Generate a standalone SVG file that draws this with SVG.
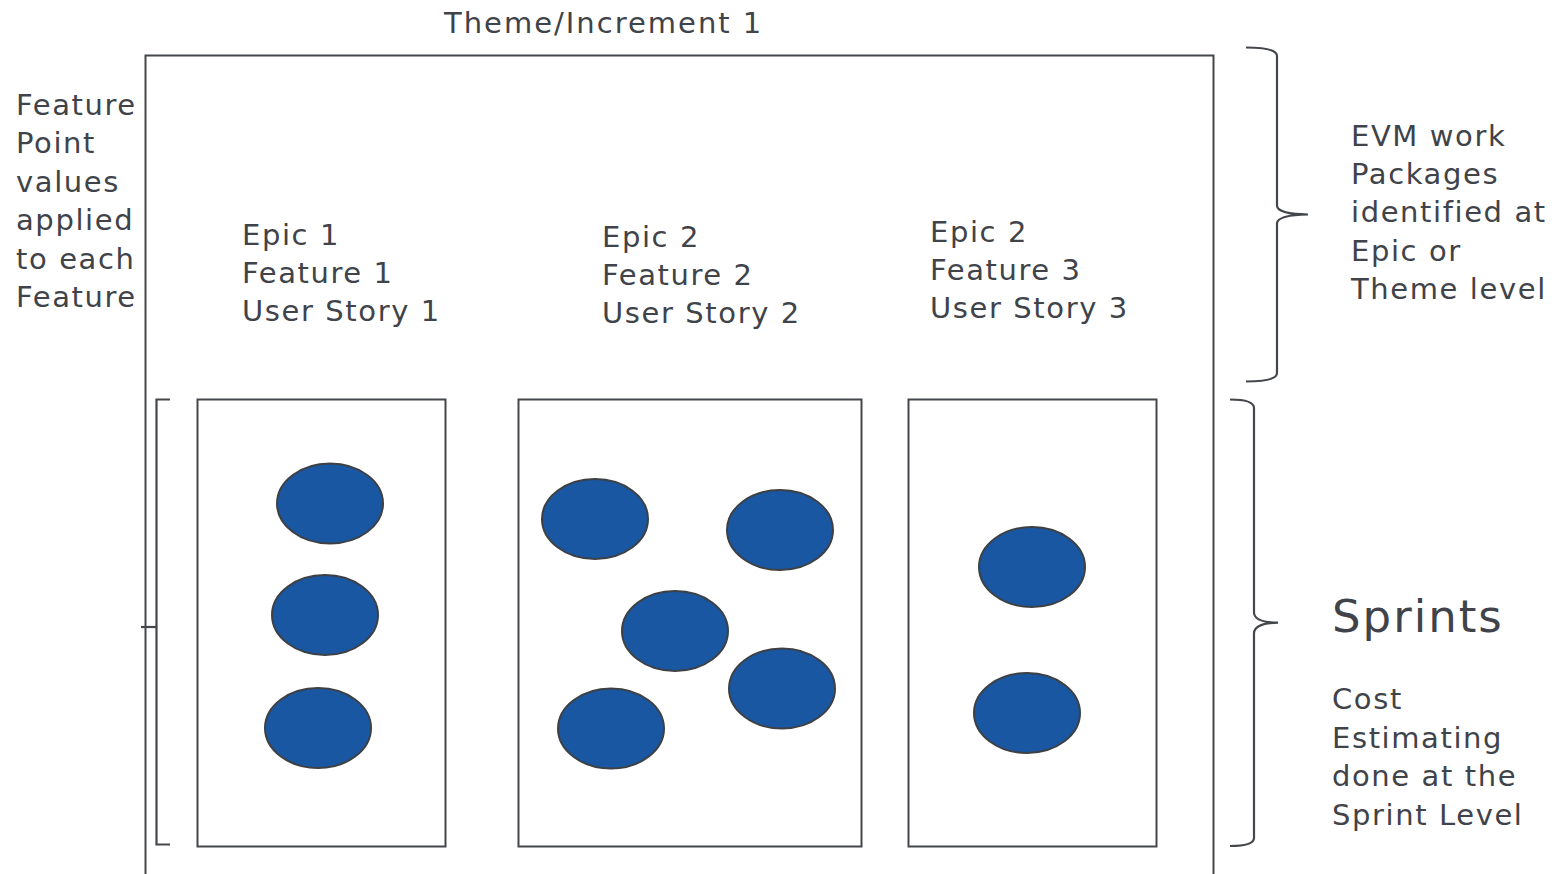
<svg xmlns="http://www.w3.org/2000/svg" width="1552" height="874" viewBox="0 0 1552 874">
  <style>
    .lbl { font-family: "DejaVu Sans", Verdana, sans-serif; font-size: 29px; letter-spacing: 1.6px; fill: #404349; }
    .title { letter-spacing: 2px; }
    .big { font-size: 45px; letter-spacing: 2px; }
    .box { fill: #ffffff; stroke: #43464b; stroke-width: 2; }
    .story { fill: #1a57a3; stroke: #3d4044; stroke-width: 2; }
    .brace { fill: none; stroke: #43464b; stroke-width: 2.2; }
  </style>
  <rect width="1552" height="874" fill="#ffffff"/>

  <!-- theme / increment container -->
  <g id="theme">
    <path class="box" d="M145.5,880 L145.5,55.5 L1213.5,55.5 L1213.5,880"/>
    <text class="lbl title" x="444" y="33">Theme/Increment 1</text>
  </g>

  <g id="feature-note">
    <text class="lbl">
      <tspan x="16" y="115">Feature</tspan>
      <tspan x="16" y="153">Point</tspan>
      <tspan x="16" y="192">values</tspan>
      <tspan x="16" y="230">applied</tspan>
      <tspan x="16" y="269">to each</tspan>
      <tspan x="16" y="307">Feature</tspan>
    </text>
  </g>

  <!-- epic headings -->
  <g id="epic1-label">
    <text class="lbl"><tspan x="242" y="245">Epic 1</tspan><tspan x="242" y="283">Feature 1</tspan><tspan x="242" y="321">User Story 1</tspan></text>
  </g>
  <g id="epic2-label">
    <text class="lbl"><tspan x="602" y="247">Epic 2</tspan><tspan x="602" y="285">Feature 2</tspan><tspan x="602" y="323">User Story 2</tspan></text>
  </g>
  <g id="epic3-label">
    <text class="lbl"><tspan x="930" y="242">Epic 2</tspan><tspan x="930" y="280">Feature 3</tspan><tspan x="930" y="318">User Story 3</tspan></text>
  </g>

  <!-- sprint columns -->
  <g id="sprint1">
    <rect class="box" x="197.5" y="399.5" width="248" height="447"/>
    <ellipse class="story" cx="330" cy="503.5" rx="53" ry="40"/>
    <ellipse class="story" cx="325" cy="615" rx="53" ry="40"/>
    <ellipse class="story" cx="318" cy="728" rx="53" ry="40"/>
  </g>
  <g id="sprint2">
    <rect class="box" x="518.5" y="399.5" width="343" height="447"/>
    <ellipse class="story" cx="595" cy="519" rx="53" ry="40"/>
    <ellipse class="story" cx="780" cy="530" rx="53" ry="40"/>
    <ellipse class="story" cx="675" cy="631" rx="53" ry="40"/>
    <ellipse class="story" cx="782" cy="688.5" rx="53" ry="40"/>
    <ellipse class="story" cx="611" cy="728.5" rx="53" ry="40"/>
  </g>
  <g id="sprint3">
    <rect class="box" x="908.5" y="399.5" width="248" height="447"/>
    <ellipse class="story" cx="1032" cy="567" rx="53" ry="40"/>
    <ellipse class="story" cx="1027" cy="713" rx="53" ry="40"/>
  </g>

  <!-- brackets and braces -->
  <g id="connectors">
    <path class="brace" d="M170,399.5 L156.5,399.5 L156.5,844.5 L170,844.5"/>
    <path class="brace" d="M141,627 L156.5,627"/>
    <path class="brace" d="M1246,47.5 Q1277,47.5 1277,56 L1277,206 Q1278,214 1308,214.5 Q1278,215 1277,223 L1277,373 Q1277,381.5 1246,381.5"/>
    <path class="brace" d="M1230,399.5 Q1254,399.5 1254,408 L1254,613 Q1255,622.5 1278,622.7 Q1255,623 1254,633 L1254,838 Q1254,846 1230,846"/>
  </g>

  <g id="evm-note">
    <text class="lbl"><tspan x="1351" y="146">EVM work</tspan><tspan x="1351" y="184">Packages</tspan><tspan x="1351" y="222">identified at</tspan><tspan x="1351" y="261">Epic or</tspan><tspan x="1351" y="299">Theme level</tspan></text>
  </g>
  <g id="sprint-note">
    <text class="lbl big" x="1332" y="632">Sprints</text>
    <text class="lbl"><tspan x="1332" y="709">Cost</tspan><tspan x="1332" y="748">Estimating</tspan><tspan x="1332" y="786">done at the</tspan><tspan x="1332" y="825">Sprint Level</tspan></text>
  </g>
</svg>
